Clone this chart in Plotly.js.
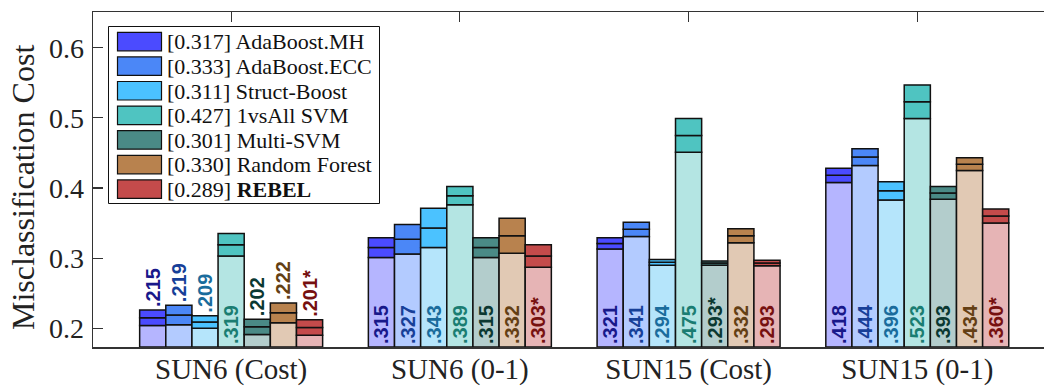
<!DOCTYPE html>
<html>
<head>
<meta charset="utf-8">
<script src="https://cdn.plot.ly/plotly-3.0.1.min.js"></script>
<style>
  html, body { margin: 0; padding: 0; background: #fff; }
  #chart { width: 1044px; height: 386px; }
</style>
</head>
<body>
<div id="chart"></div>
<script>
// ---------------- data ----------------
const categories = ['SUN6 (Cost)', 'SUN6 (0-1)', 'SUN15 (Cost)', 'SUN15 (0-1)'];
const methods = ['AdaBoost.MH', 'AdaBoost.ECC', 'Struct-Boost', '1vsAll SVM', 'Multi-SVM', 'Random Forest', 'REBEL'];
const legendScores = [0.317, 0.333, 0.311, 0.427, 0.301, 0.330, 0.289];

const meanAdaMH     = [0.215, 0.315, 0.321, 0.418];
const meanAdaECC    = [0.219, 0.327, 0.341, 0.444];
const meanStruct    = [0.209, 0.343, 0.294, 0.396];
const meanOneVsAll  = [0.319, 0.389, 0.475, 0.523];
const meanMultiSVM  = [0.202, 0.315, 0.293, 0.393];
const meanRandForest= [0.222, 0.332, 0.332, 0.434];
const meanREBEL     = [0.201, 0.303, 0.293, 0.360];

const stdAdaMH      = [0.011, 0.014, 0.008, 0.010];
const stdAdaECC     = [0.014, 0.021, 0.010, 0.012];
const stdStruct     = [0.009, 0.028, 0.004, 0.013];
const stdOneVsAll   = [0.016, 0.013, 0.024, 0.024];
const stdMultiSVM   = [0.011, 0.014, 0.003, 0.009];
const stdRandForest = [0.014, 0.025, 0.010, 0.009];
const stdREBEL      = [0.011, 0.016, 0.004, 0.010];

// index of the starred (best) method per category
const bestMethod = [6, 6, 4, 6];

const yTickVals = [0.2, 0.3, 0.4, 0.5, 0.6];
const yTickText = ['0.2', '0.3', '0.4', '0.5', '0.6'];

// ---------------- styles ----------------
const means = [meanAdaMH, meanAdaECC, meanStruct, meanOneVsAll, meanMultiSVM, meanRandForest, meanREBEL];
const stds  = [stdAdaMH, stdAdaECC, stdStruct, stdOneVsAll, stdMultiSVM, stdRandForest, stdREBEL];
const darkColors  = ['#4b4bff', '#4b87f7', '#4bc2ff', '#4fc4c1', '#4a8a86', '#b8824e', '#c44b4b'];
const lightColors = ['#b5b5ff', '#b3cbff', '#b5e5fb', '#b4e5e3', '#b3cdcc', '#e1c9b4', '#e6b4b5'];
const labelColors = ['#18188a', '#173f98', '#1a6c9c', '#1a7d72', '#0b3832', '#643f14', '#761010'];

const PLOT_L = 93, PLOT_T = 12, PLOT_W = 951, PLOT_H = 335;
const Y0 = 0.1733, Y1 = 0.6509;
const X0 = -0.604, X1 = 3.554;
const edge = { color: '#111', width: 1.5 };
const serif = 'Liberation Serif, Times New Roman, serif';
const sans = 'Liberation Sans, Arial, sans-serif';

function fmt(v, star) {
  return v.toFixed(3).replace(/^0/, '') + (star ? '*' : '');
}

const traces = [];
methods.forEach((m, i) => {
  const mu = means[i], sd = stds[i];
  const insideText = [], outsideText = [];
  mu.forEach((v, k) => {
    const lbl = fmt(v, bestMethod[k] === i);
    if (v - sd[k] - Y0 > 0.06) { insideText.push(lbl); outsideText.push(''); }
    else { insideText.push(''); outsideText.push(lbl); }
  });
  const tf = { family: sans, size: 20, color: labelColors[i], weight: 'bold' };
  traces.push({
    type: 'bar', x: categories, base: mu.map(() => Y0),
    y: mu.map((v, k) => v - sd[k] - Y0),
    offsetgroup: String(i), marker: { color: lightColors[i], line: edge },
    text: insideText, textposition: 'inside', insidetextanchor: 'start',
    textangle: -90, textfont: tf, constraintext: 'none', cliponaxis: false,
    showlegend: false, hoverinfo: 'skip'
  });
  traces.push({
    type: 'bar', x: categories, base: mu.map((v, k) => v - sd[k]),
    y: sd, offsetgroup: String(i), marker: { color: darkColors[i], line: edge },
    showlegend: false, hoverinfo: 'skip'
  });
  traces.push({
    type: 'bar', x: categories, base: mu, y: sd,
    offsetgroup: String(i), marker: { color: darkColors[i], line: edge },
    text: outsideText, textposition: 'outside', textangle: -90, textfont: tf,
    constraintext: 'none', cliponaxis: false,
    showlegend: false, hoverinfo: 'skip'
  });
});

// ---------------- custom legend ----------------
const px2x = px => (px - PLOT_L) / PLOT_W;
const px2y = py => (PLOT_T + PLOT_H - py) / PLOT_H;
const shapes = [{
  type: 'rect', xref: 'paper', yref: 'paper',
  x0: px2x(108.5), x1: px2x(379.5), y0: px2y(203.5), y1: px2y(26.5),
  line: { color: '#111', width: 1 }, fillcolor: '#fff', layer: 'above'
}];
const annotations = [];
methods.forEach((m, i) => {
  const top = 32.3 + i * 24.6;
  shapes.push({
    type: 'rect', xref: 'paper', yref: 'paper',
    x0: px2x(117.5), x1: px2x(161.5), y0: px2y(top + 18.5), y1: px2y(top),
    line: { color: '#111', width: 1.2 }, fillcolor: darkColors[i], layer: 'above'
  });
  const name = (m === 'REBEL') ? '<b>' + m + '</b>' : m;
  annotations.push({
    xref: 'paper', yref: 'paper', x: px2x(165), y: px2y(top + 9.5),
    xanchor: 'left', yanchor: 'middle', showarrow: false,
    text: '[' + legendScores[i].toFixed(3) + '] ' + name,
    font: { family: serif, size: 22, color: '#111' }
  });
});
annotations.push({
  xref: 'paper', yref: 'paper', x: px2x(23), y: px2y(188),
  xanchor: 'center', yanchor: 'middle', showarrow: false, textangle: -90,
  text: 'Misclassification Cost',
  font: { family: serif, size: 32, color: '#222' }
});

const layout = {
  width: 1044, height: 386,
  margin: { l: PLOT_L, r: 1044 - PLOT_L - PLOT_W, t: PLOT_T, b: 386 - PLOT_T - PLOT_H, pad: 0 },
  paper_bgcolor: '#fff', plot_bgcolor: '#fff',
  barmode: 'group', bargap: 0.2, bargroupgap: 0,
  showlegend: false,
  xaxis: {
    type: 'category', range: [X0, X1], showgrid: false, zeroline: false,
    showline: true, linecolor: '#333', linewidth: 1.5, mirror: 'ticks',
    ticks: 'inside', ticklen: 10, tickcolor: '#333', tickwidth: 1.2,
    ticklabelstandoff: -4,
    tickfont: { family: serif, size: 29, color: '#222' }, layer: 'below traces'
  },
  yaxis: {
    range: [Y0, Y1], showgrid: false, zeroline: false,
    showline: true, linecolor: '#333', linewidth: 1.5, mirror: false,
    ticks: 'inside', ticklen: 10, tickcolor: '#333', tickwidth: 1.2,
    ticklabelstandoff: 2,
    tickvals: yTickVals, ticktext: yTickText,
    tickfont: { family: serif, size: 28, color: '#222' }
  },
  shapes: shapes,
  annotations: annotations
};

Plotly.newPlot('chart', traces, layout, { displayModeBar: false, staticPlot: true });
</script>
</body>
</html>
